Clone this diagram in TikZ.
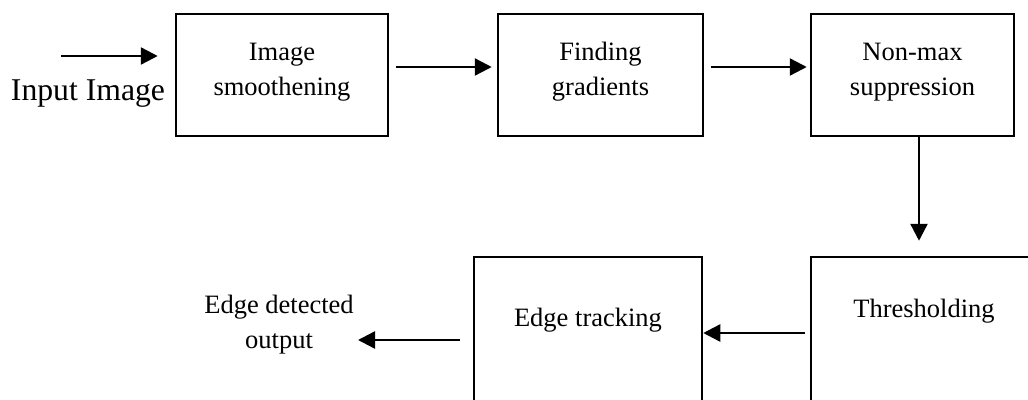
\documentclass[tikz,border=0pt]{standalone}
\usepackage{fontspec}
\setmainfont{Liberation Serif}
\usetikzlibrary{arrows.meta,calc}
\tikzset{
  blk/.style={draw, line width=2.5pt, rectangle, inner sep=0pt},
  lbl/.style={align=center, inner sep=0pt, font=\fontsize{26.5}{35}\selectfont},
  arr/.style={line width=2.4pt, -{Triangle[length=17pt,width=17pt]}},
}
\begin{document}
\begin{tikzpicture}[x=1pt,y=-1pt]
\clip (0,0) rectangle (1028,399);
\fill[white] (0,0) rectangle (1028,399);

% processing stages
\node[blk, minimum width=212pt, minimum height=122pt] (smooth) at (282,75) {};
\node[blk, minimum width=205pt, minimum height=122pt] (grad) at (600.5,75) {};
\node[blk, minimum width=203pt, minimum height=122pt] (nms) at (912.5,75) {};
\node[blk, minimum width=229pt, minimum height=163pt] (thr) at (925.5,338.5) {};
\node[blk, minimum width=228pt, minimum height=163pt] (track) at (588,338.5) {};

% stage captions
\node[lbl] (tsmooth) at ($(smooth.center)+(0,-3.2)$) {Image\\smoothening};
\node[lbl] (tgrad) at ($(grad.center)+(0,-3)$) {Finding\\gradients};
\node[lbl] (tnms) at ($(nms.center)+(0,-3.2)$) {Non-max\\suppression};
\node[lbl, anchor=base] (tthr) at (924,317) {Thresholding};
\node[lbl, anchor=base] (ttrack) at (588,326) {Edge tracking};

% input and output labels
\node[inner sep=0pt, anchor=base, font=\fontsize{31.7}{38}\selectfont] (inlbl) at (88,100) {Input Image};
\node[lbl] (outlbl) at (279,324.6) {Edge detected\\output};

% connector anchors
\coordinate (inS) at (61,56);
\coordinate (row1) at (0,67);
\coordinate (col3) at (919,0);
\coordinate (row2a) at (0,333);
\coordinate (row2b) at (0,340);
\coordinate (outE) at (358,340);

% connectors
\draw[arr, shorten >=17pt] (inS) -- (smooth.west |- inS);
\draw[arr, shorten <=7pt, shorten >=5pt] (smooth.east |- row1) -- (grad.west |- row1);
\draw[arr, shorten <=7pt, shorten >=3pt] (grad.east |- row1) -- (nms.west |- row1);
\draw[arr, shorten >=15pt] (nms.south -| col3) -- (thr.north -| col3);
\draw[arr, shorten <=5pt] (thr.west |- row2a) -- (track.east |- row2a);
\draw[arr, shorten <=13pt] (track.west |- row2b) -- (outE);
\end{tikzpicture}
\end{document}
